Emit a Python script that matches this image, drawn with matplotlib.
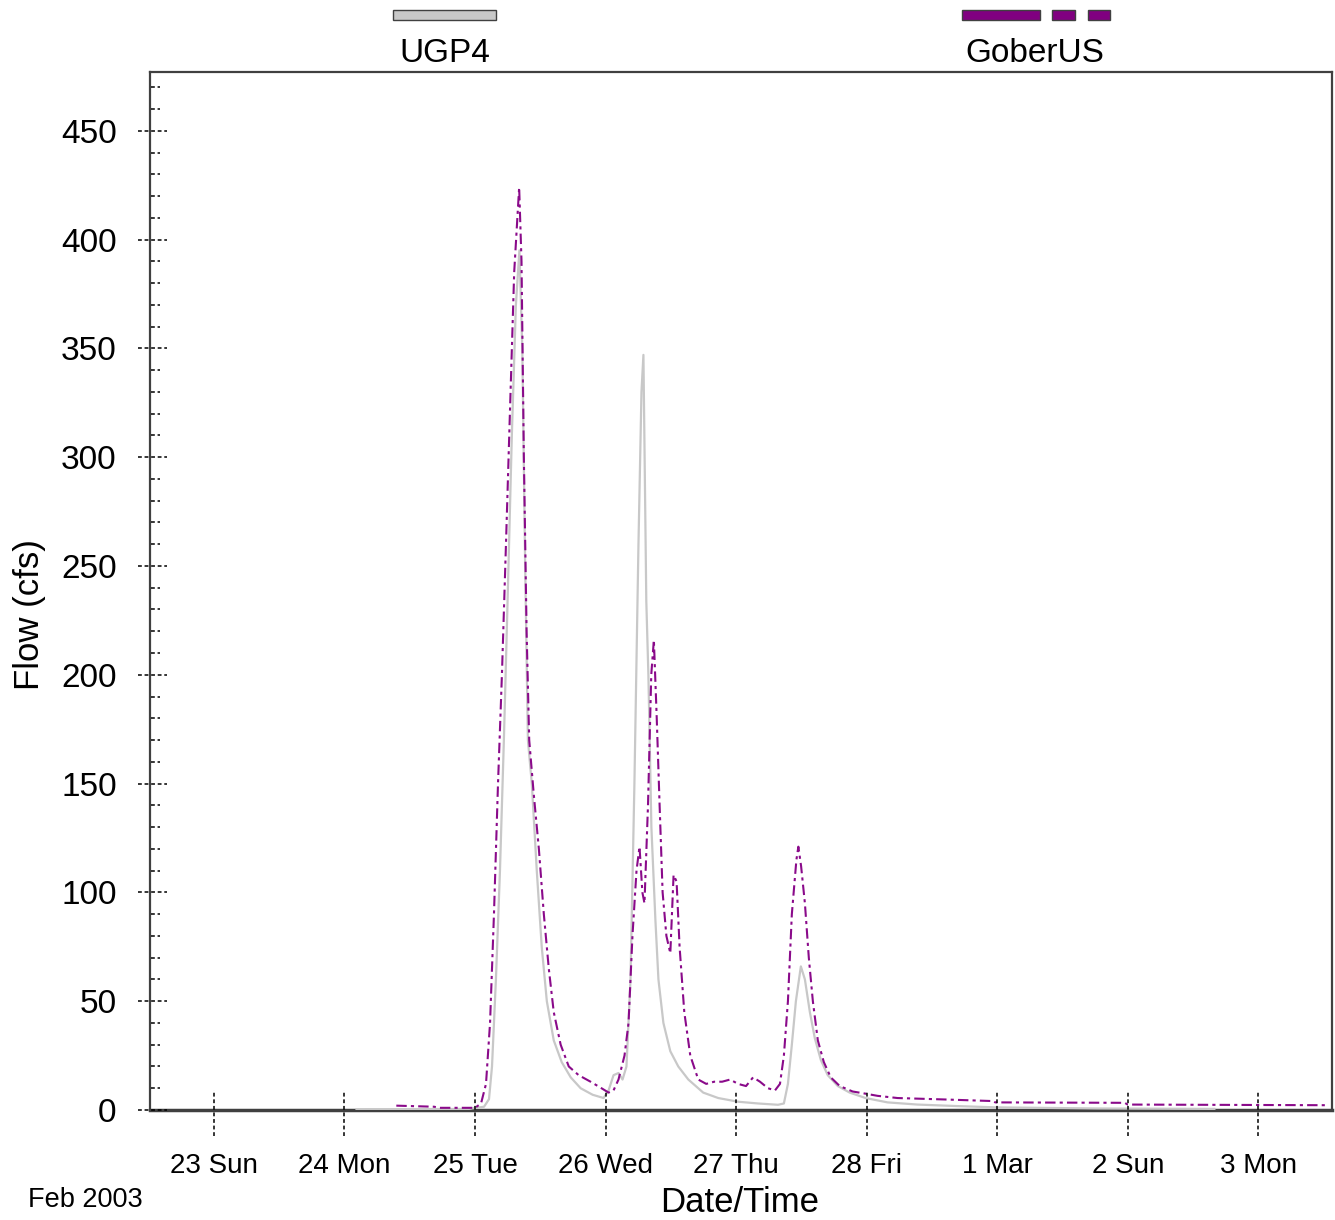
import matplotlib
matplotlib.use("Agg")
import matplotlib.pyplot as plt
import matplotlib.transforms as mtransforms
from matplotlib.patches import Rectangle

plt.rcParams["font.family"] = ["Liberation Sans", "DejaVu Sans"]

# time in days after Feb 23 2003 00:00, flow in cfs
ugp4_t = [1.092, 1.954, 2.069, 2.107, 2.130, 2.160, 2.191, 2.221, 2.252, 2.282, 2.313, 2.340,
          2.362, 2.384, 2.405, 2.435, 2.473, 2.511, 2.550, 2.603, 2.664, 2.733, 2.809, 2.901,
          2.985, 3.023, 3.061, 3.099, 3.130, 3.160, 3.191, 3.221, 3.252, 3.275, 3.290, 3.312,
          3.328, 3.351, 3.382, 3.405, 3.443, 3.496, 3.557, 3.634, 3.748, 3.863, 4.015, 4.168,
          4.321, 4.366, 4.397, 4.427, 4.458, 4.496, 4.527, 4.565, 4.603, 4.649, 4.702, 4.779,
          4.870, 4.992, 5.160, 5.389, 5.695, 6.000, 6.763, 7.664]
ugp4_v = [0.3, 0.5, 1.5, 5, 20, 60, 110, 170, 240, 310, 370, 395,
          350, 250, 170, 150, 110, 75, 50, 32, 22, 15, 10, 7,
          5.5, 9, 16, 17, 14, 20, 60, 150, 260, 330, 347, 234,
          200, 130, 87, 60, 40, 27, 20, 14, 8, 5.5, 3.8, 3,
          2.4, 3, 12, 30, 50, 66, 60, 45, 33, 23, 16, 11,
          8, 5.5, 3.5, 2.5, 1.8, 1.2, 0.7, 0.5]

gober_t = [1.397, 1.687, 1.725, 2.000, 2.046, 2.084, 2.115, 2.145, 2.176, 2.206, 2.237, 2.267,
           2.300, 2.338, 2.356, 2.374, 2.395, 2.415, 2.450, 2.489, 2.527, 2.565, 2.603, 2.656,
           2.718, 2.794, 2.885, 2.969, 3.023, 3.061, 3.099, 3.145, 3.176, 3.206, 3.237, 3.260,
           3.282, 3.298, 3.325, 3.350, 3.370, 3.392, 3.414, 3.437, 3.466, 3.496, 3.521, 3.544,
           3.567, 3.603, 3.649, 3.710, 3.771, 3.832, 3.893, 3.954, 4.015, 4.076, 4.130, 4.183,
           4.244, 4.298, 4.336, 4.366, 4.397, 4.427, 4.462, 4.477, 4.498, 4.527, 4.557, 4.588,
           4.626, 4.672, 4.725, 4.794, 4.893, 4.992, 5.084, 5.237, 5.618, 5.969, 5.985, 6.977,
           7.000, 8.534]
gober_v = [2.0, 1.5, 1.0, 1.0, 3, 12, 40, 90, 150, 200, 260, 320,
           385, 424, 390, 300, 220, 170, 145, 120, 90, 65, 45, 30,
           20, 16, 13, 10, 8, 9, 14, 25, 40, 80, 110, 121,
           100, 95, 140, 200, 216, 180, 140, 100, 80, 72, 108, 105,
           75, 45, 25, 14, 12, 13, 13, 14, 12, 11, 15, 13,
           10, 9, 12, 25, 50, 90, 115, 121, 112, 95, 70, 50,
           32, 22, 15, 11, 8.5, 7.5, 6.5, 5.5, 4.8, 4.1, 3.5, 3.3,
           2.5, 2.2]

day_labels = ["23 Sun", "24 Mon", "25 Tue", "26 Wed", "27 Thu", "28 Fri", "1 Mar", "2 Sun", "3 Mon"]
y_major = [0, 50, 100, 150, 200, 250, 300, 350, 400, 450]
y_minor = [v for v in range(0, 480, 10) if v % 50 != 0]

W, H = 1335, 1220
fig = plt.figure(figsize=(W / 100, H / 100), dpi=100)
ax = fig.add_axes([150 / W, 110 / H, 1182 / W, 1038 / H])

gray = "#c8c8c8"
purple = "#8a0a8a"
dark = "#404040"

ax.plot(ugp4_t, ugp4_v, color=gray, lw=1.6, zorder=3)
ax.plot(gober_t, gober_v, color=purple, lw=1.5, dashes=(5, 2, 1.5, 2), zorder=4)

ax.set_xlim(-0.49, 8.565)
ax.set_ylim(0, 477)

for s in ax.spines.values():
    s.set_color(dark)
    s.set_linewidth(1.6)
ax.spines["bottom"].set_linewidth(2.5)

ax.set_xticks(range(len(day_labels)))
ax.set_xticklabels(day_labels, fontsize=20)
ax.set_yticks(y_major)
ax.set_yticklabels([str(v) for v in y_major], fontsize=24)
ax.tick_params(axis="x", length=0, pad=31)
ax.tick_params(axis="y", length=0, pad=24)

# dashed tick marks
ty = mtransforms.blended_transform_factory(ax.transAxes, ax.transData)
tx = mtransforms.blended_transform_factory(ax.transData, ax.transAxes)
tick_dash = (0, (2.5, 1.8))
for v in y_major:
    ax.plot([-0.0102, 0.0144], [v, v], transform=ty, color="black", lw=1.1,
            linestyle=tick_dash, clip_on=False, zorder=5)
for v in y_minor:
    ax.plot([0.001, 0.0085], [v, v], transform=ty, color="black", lw=1.1,
            linestyle=tick_dash, clip_on=False, zorder=5)
for d in range(len(day_labels)):
    ax.plot([d, d], [-0.025, 0.0193], transform=tx, color="black", lw=1.1,
            linestyle=tick_dash, clip_on=False, zorder=5)

# axis titles
fig.text(740 / W, 1 - 1202 / H, "Date/Time", fontsize=25, ha="center", va="center")
fig.text(29 / W, 1 - 615 / H, "Flow (cfs)", fontsize=25, ha="center", va="center", rotation=90)
fig.text(28 / W, 1 - 1200 / H, "Feb 2003", fontsize=19.5, ha="left", va="center")

# legend at top
def frect(x0, x1, fc):
    fig.patches.append(Rectangle((x0 / W, 1 - 20 / H), (x1 - x0) / W, 10 / H,
                                 transform=fig.transFigure, facecolor=fc,
                                 edgecolor=dark, lw=1.0))

frect(393, 496, gray)
frect(962, 1040, "#800080")
frect(1052, 1075, "#800080")
frect(1088, 1110, "#800080")
fig.text(445 / W, 1 - 53 / H, "UGP4", fontsize=24, ha="center", va="center")
fig.text(1035 / W, 1 - 53 / H, "GoberUS", fontsize=24, ha="center", va="center")

fig.savefig("out.png", dpi=100)
